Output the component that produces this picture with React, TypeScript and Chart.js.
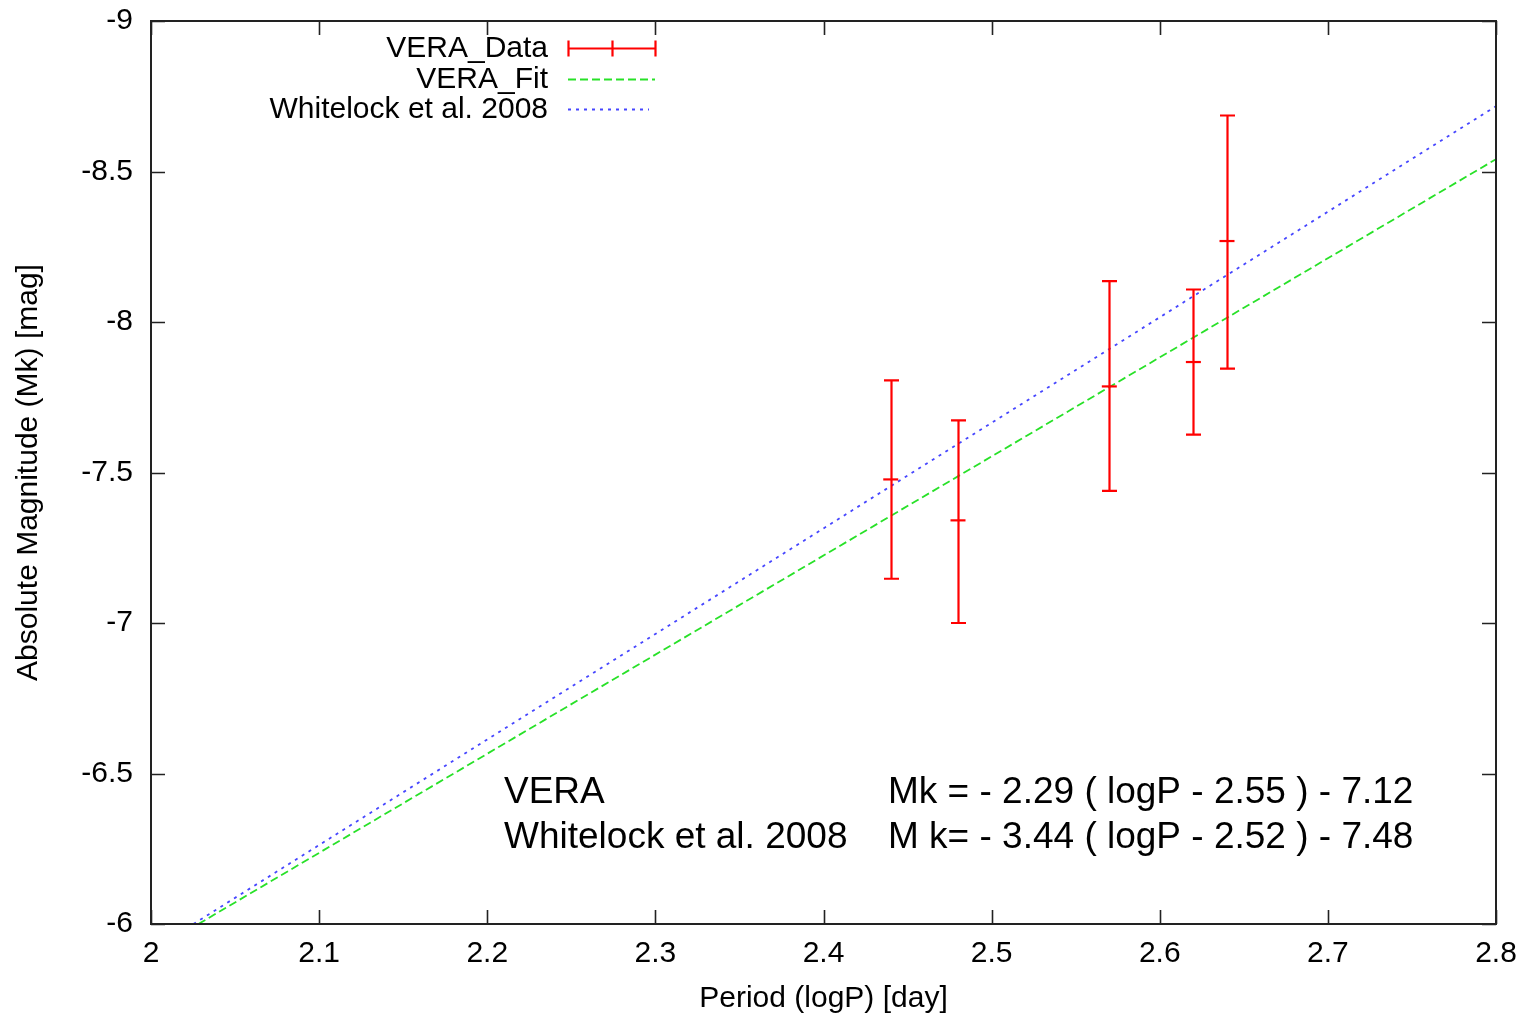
import React, { useEffect, useRef } from "react";
import { Chart, registerables } from "chart.js";

Chart.register(...registerables);

// ---- data ----
const periods = [2.44, 2.48, 2.57, 2.62, 2.64];
const magnitudes = [-7.477, -7.341, -7.786, -7.867, -8.269];
const magFaint = [-7.147, -7.0, -7.439, -7.626, -7.845];
const magBright = [-7.806, -7.673, -8.136, -8.108, -8.686];

const veraFitX = [2.0282, 2.8];
const veraFitY = [-6.0, -8.541];
const whitelockX = [2.0252, 2.8];
const whitelockY = [-6.0, -8.717];

const xTickValues = [2, 2.1, 2.2, 2.3, 2.4, 2.5, 2.6, 2.7, 2.8];
const yTickValues = [-9, -8.5, -8, -7.5, -7, -6.5, -6];

const seriesLabels = ["VERA_Data", "VERA_Fit", "Whitelock et al. 2008"];
const annotationNames = ["VERA", "Whitelock et al. 2008"];
const annotationEquations = [
  "Mk = - 2.29 ( logP - 2.55 ) - 7.12",
  "M k= - 3.44 ( logP - 2.52 ) - 7.48",
];
const xTitle = "Period (logP) [day]";
const yTitle = "Absolute Magnitude (Mk) [mag]";

const RED = "rgb(255,0,0)";
const GREEN = "rgb(40,225,40)";
const BLUE = "rgb(70,70,255)";
const FONT = "'Liberation Sans', Arial, sans-serif";

const fmt = (v: number) => String(Number(Number(v).toFixed(2)));

const framePlugin = {
  id: "frameTicks",
  afterDatasetsDraw(chart: any) {
    const { ctx, chartArea, scales } = chart;
    const { left, right, top, bottom } = chartArea;
    const xs = scales.x;
    const ys = scales.y;
    const tl = 14;
    ctx.save();
    ctx.strokeStyle = "#222";
    ctx.lineWidth = 1.6;
    ctx.beginPath();
    xTickValues.forEach((v) => {
      const px = Math.round(xs.getPixelForValue(v)) + 0.5;
      ctx.moveTo(px, bottom);
      ctx.lineTo(px, bottom - tl);
      ctx.moveTo(px, top);
      ctx.lineTo(px, top + tl);
    });
    yTickValues.forEach((v) => {
      const py = Math.round(ys.getPixelForValue(v)) + 0.5;
      ctx.moveTo(left, py);
      ctx.lineTo(left + tl, py);
      ctx.moveTo(right, py);
      ctx.lineTo(right - tl, py);
    });
    ctx.stroke();
    ctx.lineWidth = 2;
    ctx.strokeRect(left, top, right - left, bottom - top);
    ctx.restore();
  },
};

const errorBarPlugin = {
  id: "errorBars",
  afterDatasetsDraw(chart: any) {
    const { ctx, scales } = chart;
    const xs = scales.x;
    const ys = scales.y;
    const cap = 7.5;
    ctx.save();
    ctx.strokeStyle = RED;
    ctx.lineWidth = 2.2;
    ctx.beginPath();
    periods.forEach((p, i) => {
      const px = Math.round(xs.getPixelForValue(p)) + 0.5;
      const y1 = ys.getPixelForValue(magFaint[i]);
      const y2 = ys.getPixelForValue(magBright[i]);
      ctx.moveTo(px, y1);
      ctx.lineTo(px, y2);
      ctx.moveTo(px - cap, y1);
      ctx.lineTo(px + cap, y1);
      ctx.moveTo(px - cap, y2);
      ctx.lineTo(px + cap, y2);
    });
    ctx.stroke();
    ctx.restore();
  },
};

const legendPlugin = {
  id: "customLegend",
  afterDraw(chart: any) {
    const { ctx } = chart;
    const textRight = 548;
    const sx0 = 568;
    const sx1 = 655;
    const rows = [48, 79, 109];
    ctx.save();
    ctx.font = `30px ${FONT}`;
    ctx.fillStyle = "#000";
    ctx.textAlign = "right";
    ctx.textBaseline = "middle";
    seriesLabels.forEach((lab, i) => {
      ctx.fillText(lab, textRight, rows[i] + 1);
    });
    // VERA_Data sample
    ctx.strokeStyle = RED;
    ctx.lineWidth = 2.2;
    ctx.beginPath();
    const r0 = rows[0] + 0.5;
    ctx.moveTo(sx0, r0);
    ctx.lineTo(sx1, r0);
    [sx0, (sx0 + sx1) / 2, sx1].forEach((x) => {
      ctx.moveTo(Math.round(x) + 0.5, r0 - 8);
      ctx.lineTo(Math.round(x) + 0.5, r0 + 8);
    });
    ctx.stroke();
    // VERA_Fit sample
    ctx.strokeStyle = GREEN;
    ctx.lineWidth = 1.8;
    ctx.setLineDash([8, 4]);
    ctx.beginPath();
    ctx.moveTo(sx0, rows[1] + 0.5);
    ctx.lineTo(sx1, rows[1] + 0.5);
    ctx.stroke();
    // Whitelock sample
    ctx.strokeStyle = BLUE;
    ctx.setLineDash([3, 5]);
    ctx.beginPath();
    ctx.moveTo(sx0, rows[2] + 0.5);
    ctx.lineTo(sx1 - 6, rows[2] + 0.5);
    ctx.stroke();
    ctx.restore();
  },
};

const annotationPlugin = {
  id: "equations",
  afterDraw(chart: any) {
    const { ctx } = chart;
    ctx.save();
    ctx.font = `37px ${FONT}`;
    ctx.fillStyle = "#000";
    ctx.textAlign = "left";
    ctx.textBaseline = "alphabetic";
    const baselines = [803, 848];
    annotationNames.forEach((t, i) => ctx.fillText(t, 504, baselines[i]));
    annotationEquations.forEach((t, i) => ctx.fillText(t, 888, baselines[i]));
    ctx.restore();
  },
};

export default function App() {
  const canvasRef = useRef<HTMLCanvasElement | null>(null);

  useEffect(() => {
    if (!canvasRef.current) return;
    const chart = new Chart(canvasRef.current, {
      type: "scatter",
      data: {
        datasets: [
          {
            label: seriesLabels[0],
            data: periods.map((p, i) => ({ x: p, y: magnitudes[i] })),
            pointStyle: "line",
            pointRadius: 7.5,
            pointBorderWidth: 2.2,
            borderColor: RED,
            backgroundColor: RED,
            showLine: false,
          },
          {
            label: seriesLabels[1],
            data: veraFitX.map((x, i) => ({ x, y: veraFitY[i] })),
            showLine: true,
            borderColor: GREEN,
            borderWidth: 1.8,
            borderDash: [8, 4],
            pointRadius: 0,
            fill: false,
          },
          {
            label: seriesLabels[2],
            data: whitelockX.map((x, i) => ({ x, y: whitelockY[i] })),
            showLine: true,
            borderColor: BLUE,
            borderWidth: 1.8,
            borderDash: [3, 5],
            pointRadius: 0,
            fill: false,
          },
        ],
      },
      options: {
        responsive: false,
        animation: false,
        devicePixelRatio: 1,
        layout: { padding: { left: 0, right: 31, top: 21, bottom: 0 } },
        plugins: {
          legend: { display: false },
          tooltip: { enabled: false },
        },
        scales: {
          x: {
            type: "linear",
            min: 2,
            max: 2.8,
            afterBuildTicks: (s: any) => {
              s.ticks = xTickValues.map((v) => ({ value: v }));
            },
            afterFit: (s: any) => {
              s.height = 93;
              s.paddingLeft = 0;
              s.paddingRight = 0;
            },
            grid: { display: false, drawTicks: false },
            border: { display: false },
            ticks: {
              color: "#000",
              font: { family: FONT, size: 30 },
              padding: 12,
              maxRotation: 0,
              autoSkip: false,
              callback: (v: any) => fmt(v),
            },
            title: {
              display: true,
              text: xTitle,
              color: "#000",
              font: { family: FONT, size: 30 },
              padding: { top: 0, bottom: 0 },
            },
          },
          y: {
            type: "linear",
            min: -9,
            max: -6,
            reverse: true,
            afterBuildTicks: (s: any) => {
              s.ticks = yTickValues.map((v) => ({ value: v }));
            },
            afterFit: (s: any) => {
              s.width = 151;
              s.paddingTop = 0;
              s.paddingBottom = 0;
            },
            grid: { display: false, drawTicks: false },
            border: { display: false },
            ticks: {
              color: "#000",
              font: { family: FONT, size: 30 },
              padding: 18,
              autoSkip: false,
              callback: (v: any) => fmt(v),
            },
            title: {
              display: true,
              text: yTitle,
              color: "#000",
              font: { family: FONT, size: 30 },
              padding: { top: 11, bottom: 0 },
            },
          },
        },
      },
      plugins: [framePlugin, errorBarPlugin, legendPlugin, annotationPlugin],
    } as any);
    return () => chart.destroy();
  }, []);

  return (
    <div style={{ position: "absolute", left: 0, top: 0, width: 1527, height: 1017, background: "#fff" }}>
      <canvas ref={canvasRef} width={1527} height={1017} style={{ display: "block" }} />
    </div>
  );
}
